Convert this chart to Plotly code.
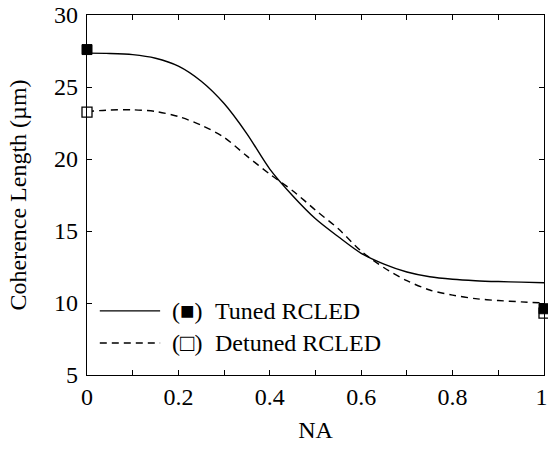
import plotly.graph_objects as go

# ---- data ----
na = [0.0, 0.05, 0.1, 0.15, 0.2, 0.25, 0.3, 0.35, 0.4, 0.45, 0.5,
      0.55, 0.6, 0.65, 0.7, 0.75, 0.8, 0.85, 0.9, 0.95, 1.0]
tuned = [27.35, 27.33, 27.25, 27.0, 26.45, 25.4, 23.85, 21.75, 19.3, 17.45, 15.85,
         14.6, 13.45, 12.7, 12.15, 11.82, 11.65, 11.55, 11.49, 11.45, 11.41]
detuned = [23.3, 23.4, 23.42, 23.3, 22.95, 22.35, 21.5, 20.2, 18.95, 17.8, 16.45,
           15.15, 13.6, 12.45, 11.55, 10.9, 10.55, 10.3, 10.17, 10.08, 10.0]

meas_na = [0.0, 1.0]
tuned_meas = [27.6, 9.6]
detuned_meas = [23.25, 9.3]

x_tickvals = [0, 0.2, 0.4, 0.6, 0.8, 1.0]
x_ticktext = ["0", "0.2", "0.4", "0.6", "0.8", "1\u2009"]
y_tickvals = [5, 10, 15, 20, 25, 30]
y_ticktext = ["5", "10", "15", "20", "25", "30"]

legend_labels = ["Tuned RCLED", "Detuned RCLED"]
legend_symbols = ["(\u25A0)", "(\u25A1)"]

FONT = "Liberation Serif"
FS = 24

fig = go.Figure()
fig.add_trace(go.Scatter(x=na, y=tuned, mode="lines",
                         line=dict(color="black", width=1.4, shape="spline", smoothing=0.8),
                         showlegend=False))
fig.add_trace(go.Scatter(x=na, y=detuned, mode="lines",
                         line=dict(color="black", width=1.4, dash="7px,5px", shape="spline", smoothing=0.8),
                         showlegend=False))
fig.add_trace(go.Scatter(x=meas_na, y=detuned_meas, mode="markers", cliponaxis=False,
                         marker=dict(symbol="square", size=10, color="white",
                                     line=dict(color="black", width=1.3)),
                         showlegend=False))
fig.add_trace(go.Scatter(x=meas_na, y=tuned_meas, mode="markers", cliponaxis=False,
                         marker=dict(symbol="square", size=10, color="black",
                                     line=dict(color="black", width=1)),
                         showlegend=False))

# manual legend
leg_y = [0.178, 0.089]  # paper coords
for i in range(2):
    fig.add_shape(type="line", xref="paper", yref="paper",
                  x0=0.028, x1=0.16, y0=leg_y[i], y1=leg_y[i],
                  line=dict(color="black", width=1.4,
                            dash="solid" if i == 0 else "7px,5px"))
    fig.add_annotation(xref="paper", yref="paper", x=0.181, y=leg_y[i],
                       text=legend_symbols[i], showarrow=False, xanchor="left",
                       yanchor="middle", font=dict(family=FONT, size=FS, color="black"))
    fig.add_annotation(xref="paper", yref="paper", x=0.275, y=leg_y[i],
                       text=legend_labels[i], showarrow=False, xanchor="left",
                       yanchor="middle", font=dict(family=FONT, size=FS, color="black"))

axis_common = dict(showline=True, linecolor="black", linewidth=1.3, mirror="ticks",
                   ticks="inside", ticklen=5, tickwidth=1.2, tickcolor="black",
                   showgrid=False, zeroline=False, ticklabeloverflow="allow",
                   tickfont=dict(family=FONT, size=FS, color="black"))

fig.update_xaxes(range=[0, 1], tickvals=x_tickvals, ticktext=x_ticktext,
                 ticklabelstandoff=0,
                 minor=dict(dtick=0.1, tick0=0, ticks="inside", ticklen=5,
                            tickwidth=1.2, tickcolor="black", showgrid=False),
                 title=dict(text="NA", font=dict(family=FONT, size=FS, color="black"), standoff=12),
                 **axis_common)
fig.update_yaxes(range=[5, 30], tickvals=y_tickvals, ticktext=y_ticktext,
                 ticklabelstandoff=3,
                 title=dict(text="Coherence Length (\u00B5m)",
                            font=dict(family=FONT, size=FS, color="black"), standoff=20),
                 **axis_common)

fig.update_layout(template="none", width=548, height=449,
                  margin=dict(l=87, r=4, t=15, b=74, autoexpand=False),
                  plot_bgcolor="white", paper_bgcolor="white",
                  font=dict(family=FONT, size=FS, color="black"))

fig.write_html("out.html", config={"displayModeBar": False},
               post_script="document.body.style.margin='0';")
